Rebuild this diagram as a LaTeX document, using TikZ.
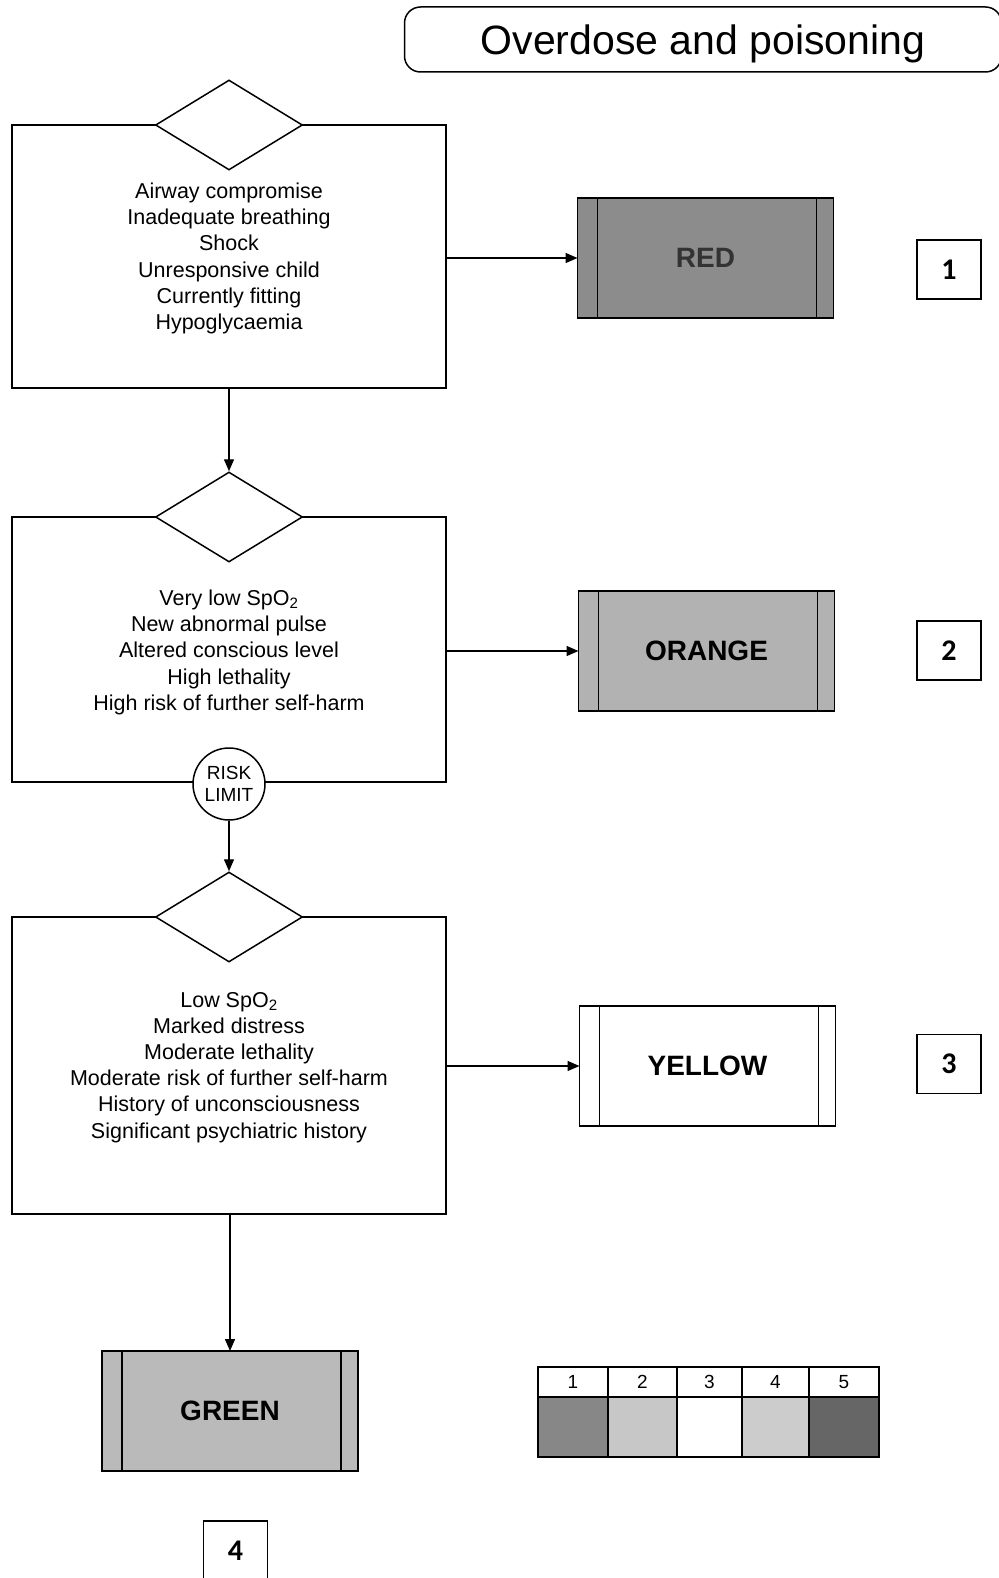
\documentclass[tikz,border=0pt]{standalone}
\usepackage{fontspec}
\setmainfont{Liberation Sans}
\newfontfamily\numfont{Carlito}
\usetikzlibrary{shapes.geometric,arrows.meta}
\begin{document}
\begin{tikzpicture}[x=1pt,y=-1pt,
  box/.style={draw,line width=1.5pt,minimum width=434pt,inner sep=0pt,outer sep=0pt},
  dia/.style={diamond,draw,fill=white,line width=1.5pt,minimum width=147pt,minimum height=90pt,inner sep=0pt},
  crit/.style={align=center,inner sep=0pt,font=\fontsize{21.5}{26.2}\selectfont},
  cbox/.style={draw,line width=1.5pt,minimum width=256pt,minimum height=120pt,inner sep=0pt,outer sep=0pt,font=\bfseries\fontsize{28}{32}\selectfont},
  nbox/.style={draw,line width=1.2pt,minimum width=64pt,minimum height=59pt,inner sep=0pt,font=\numfont\bfseries\fontsize{30}{34}\selectfont},
  hcell/.style={draw,line width=1.5pt,minimum height=30pt,inner sep=0pt,outer sep=0pt,font=\fontsize{19}{22}\selectfont},
  lcell/.style={draw,line width=1.5pt,minimum height=60pt,inner sep=0pt,outer sep=0pt},
  inner/.style={line width=1.2pt},
  arr/.style={line width=1.4pt,-{Triangle[length=12pt,width=10pt]}}]
\useasboundingbox (0,0) rectangle (998,1578);

% title
\node[draw,rounded corners=16pt,line width=1.5pt,minimum width=597pt,minimum height=65pt,inner sep=0pt,
      font=\fontsize{41}{46}\selectfont,text height=31pt,text depth=0pt] (title) at (703,39.5) {Overdose and poisoning};

% criteria boxes
\node[box,minimum height=263pt] (b1) at (229,256.5) {};
\node[box,minimum height=265pt] (b2) at (229,649.5) {};
\node[box,minimum height=297pt] (b3) at (229,1065.5) {};

\node[dia] (d1) at (b1.north) {};
\node[dia] (d2) at (b2.north) {};
\node[dia] (d3) at (b3.north) {};

\node[crit] (t1) at (229,258.4) {Airway compromise\\Inadequate breathing\\Shock\\Unresponsive child\\Currently fitting\\Hypoglycaemia};
\node[crit] (t2) at (229,652.4) {Very low SpO\textsubscript{2}\\New abnormal pulse\\Altered conscious level\\High lethality\\High risk of further self-harm};
\node[crit] (t3) at (229,1067.4) {Low SpO\textsubscript{2}\\Marked distress\\Moderate lethality\\Moderate risk of further self-harm\\History of unconsciousness\\Significant psychiatric history};

\node[circle,draw,fill=white,line width=1.5pt,minimum size=72pt,inner sep=0pt,align=center,
      font=\fontsize{19}{22}\selectfont] (rl) at (229,784) {RISK\\LIMIT};

% category boxes
\node[cbox,fill=black!45,text=black!80] (red) at (705.5,258) {RED};
\node[cbox,fill=black!30] (orange) at (706.5,651) {ORANGE};
\node[cbox,fill=white] (yellow) at (707.5,1066) {YELLOW};
\node[cbox,fill=black!27] (green) at (230,1411) {GREEN};
\foreach \n in {red,orange,yellow,green}{
  \draw[inner] ([xshift=20pt]\n.north west) -- ([xshift=20pt]\n.south west);
  \draw[inner] ([xshift=-17pt]\n.north east) -- ([xshift=-17pt]\n.south east);
}

% number boxes
\node[nbox] (n1) at (949,269.5) {1};
\node[nbox] (n2) at (949,650.5) {2};
\node[nbox] (n3) at (949,1064) {3};
\node[nbox] (n4) at (235.5,1550.5) {4};

% legend
\node[hcell,minimum width=70pt] (h1) at (573,1382) {1};
\node[hcell,minimum width=69pt] (h2) at (642.5,1382) {2};
\node[hcell,minimum width=65pt] (h3) at (709.5,1382) {3};
\node[hcell,minimum width=67pt] (h4) at (775.5,1382) {4};
\node[hcell,minimum width=70pt] (h5) at (844,1382) {5};
\node[lcell,minimum width=70pt,fill=black!47] (c1) at (573,1427) {};
\node[lcell,minimum width=69pt,fill=black!22] (c2) at (642.5,1427) {};
\node[lcell,minimum width=65pt,fill=white] (c3) at (709.5,1427) {};
\node[lcell,minimum width=67pt,fill=black!20] (c4) at (775.5,1427) {};
\node[lcell,minimum width=70pt,fill=black!60] (c5) at (844,1427) {};

% connectors
\draw[arr] (b1.east |- red.west) -- (red.west);
\draw[arr] (b2.east |- orange.west) -- (orange.west);
\draw[arr] (b3.east |- yellow.west) -- (yellow.west);
\draw[arr] (b1.south) -- (d2.north);
\draw[arr] (rl.south) -- (d3.north);
\draw[arr] (green.north |- b3.south) -- (green.north);
\end{tikzpicture}
\end{document}
